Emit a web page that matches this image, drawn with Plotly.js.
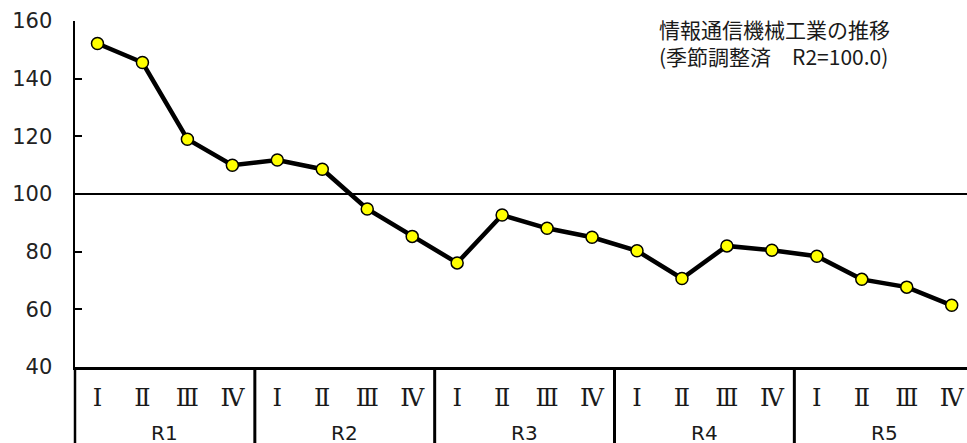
<!DOCTYPE html>
<html>
<head>
<meta charset="utf-8">
<script src="https://cdn.plot.ly/plotly-3.0.1.min.js"></script>
<style>html,body{margin:0;padding:0;background:#fff;}#chart{width:967px;height:443px;}</style>
</head>
<body>
<div id="chart"></div>
<script>
var years = ['R1', 'R2', 'R3', 'R4', 'R5'];
var quarters = ['Ⅰ', 'Ⅱ', 'Ⅲ', 'Ⅳ'];
var values = [152.2, 145.6, 119.0, 110.0, 111.8, 108.6, 94.8, 85.3, 76.1, 92.7,
              88.1, 85.0, 80.3, 70.7, 82.0, 80.5, 78.4, 70.4, 67.7, 61.4];
var titleLines = ['情報通信機械工業の推移', '(季節調整済　R2=100.0)'];
var baseValue = 100;
var yTicks = [40, 60, 80, 100, 120, 140, 160];

var xIdx = [], tickText = [];
years.forEach(function (y, yi) {
  quarters.forEach(function (q, qi) {
    xIdx.push(yi * quarters.length + qi);
    tickText.push(q);
  });
});

var shapes = [
  {type: 'line', xref: 'paper', yref: 'y', x0: 0, x1: 1, y0: baseValue, y1: baseValue,
   line: {color: '#000', width: 2}, layer: 'below'},
  {type: 'line', xref: 'paper', yref: 'paper', x0: 0, x1: 0, y0: 0, y1: -0.3,
   xshift: -1, line: {color: '#000', width: 2.5}}
];
var annotations = [];
years.forEach(function (y, yi) {
  var start = yi * quarters.length - 0.5;
  var end = start + quarters.length;
  if (yi > 0) {
    shapes.push({type: 'line', xref: 'x', yref: 'paper', x0: start, x1: start, y0: 0, y1: -0.3,
                 line: {color: '#000', width: 3}});
  }
  annotations.push({xref: 'x', yref: 'paper', x: (start + end) / 2, y: -0.192,
                    xanchor: 'center', yanchor: 'middle', showarrow: false, text: y,
                    font: {family: 'DejaVu Sans', size: 20, color: '#1a1a1a'}});
});
annotations.push({xref: 'paper', yref: 'paper', x: 0.653, y: 0.939,
                  xanchor: 'left', yanchor: 'middle', align: 'left', showarrow: false,
                  text: titleLines.join('<br>'),
                  font: {family: 'Noto Sans CJK JP', size: 21, color: '#1a1a1a'}});

var trace = {
  x: xIdx, y: values, type: 'scatter', mode: 'lines+markers',
  line: {color: '#000', width: 4.5},
  marker: {color: '#ffff00', size: 12, line: {color: '#000', width: 1.5}},
  cliponaxis: false, hoverinfo: 'skip'
};

var layout = {
  width: 967, height: 443,
  margin: {l: 75, r: 0, t: 20.5, b: 75.5, pad: 0},
  paper_bgcolor: '#fff', plot_bgcolor: '#fff',
  showlegend: false,
  xaxis: {
    range: [-0.5, 19.34], tickmode: 'array', tickvals: xIdx, ticktext: tickText,
    showgrid: false, zeroline: false, showline: true, linecolor: '#000', linewidth: 3,
    ticks: '', ticklabelstandoff: 7,
    tickfont: {family: 'DejaVu Serif', size: 24, color: '#1a1a1a'}
  },
  yaxis: {
    range: [40, 160], tickmode: 'array', tickvals: yTicks,
    showgrid: false, zeroline: false, showline: true, linecolor: '#000', linewidth: 2.5,
    ticks: 'inside', ticklen: 7, tickwidth: 2, tickcolor: '#000', ticklabelstandoff: 16,
    tickfont: {family: 'DejaVu Sans', size: 21, color: '#222'}
  },
  shapes: shapes,
  annotations: annotations
};

Plotly.newPlot('chart', [trace], layout, {displayModeBar: false, staticPlot: true});
</script>
</body>
</html>
